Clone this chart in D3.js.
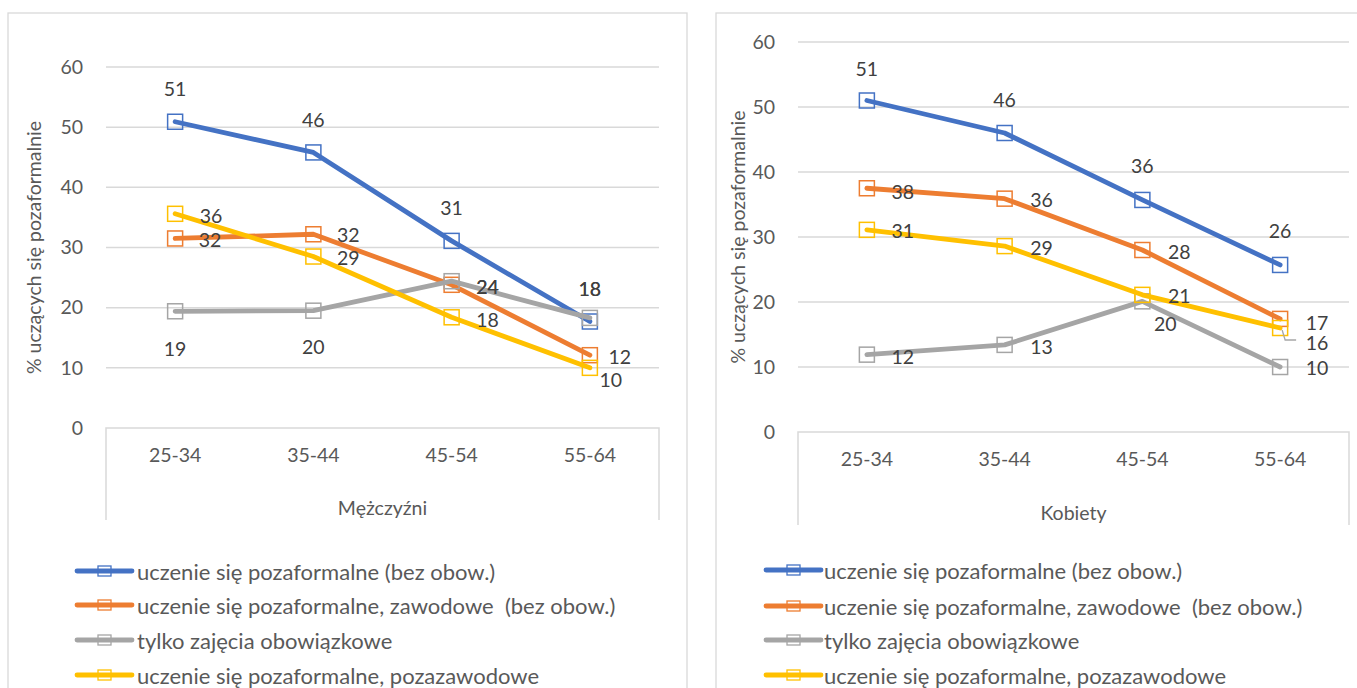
<!DOCTYPE html>
<html>
<head>
<meta charset="utf-8">
<script src="https://cdn.jsdelivr.net/npm/d3@7"></script>
<style>
  html, body { margin: 0; padding: 0; background: #fff; }
  svg { display: block; }
  text { font-family: Lato, "Open Sans", sans-serif; white-space: pre; }
</style>
</head>
<body>
<svg id="chart" width="1357" height="688"></svg>
<script>
// Age groups on the category axis
const categories = ["25-34", "35-44", "45-54", "55-64"];
const yTicks = [0, 10, 20, 30, 40, 50, 60];

const seriesNames = [
  "uczenie się pozaformalne (bez obow.)",
  "uczenie się pozaformalne, zawodowe  (bez obow.)",
  "tylko zajęcia obowiązkowe",
  "uczenie się pozaformalne, pozazawodowe"
];
const seriesColors = ["#4472C4", "#ED7D31", "#A5A5A5", "#FFC000"];

// Mężczyźni (% learning non-formally)
const menBlue   = [50.9, 45.8, 31.1, 17.7];
const menOrange = [31.5, 32.2, 23.8, 12.1];
const menGray   = [19.4, 19.5, 24.4, 18.3];
const menYellow = [35.6, 28.5, 18.4, 10.0];

// Kobiety (% learning non-formally)
const womenBlue   = [51.0, 46.0, 35.7, 25.7];
const womenOrange = [37.5, 35.9, 28.0, 17.4];
const womenGray   = [11.9, 13.4, 20.1, 10.0];
const womenYellow = [31.1, 28.6, 21.1, 16.0];

// Data label offsets from each point: [dx, dy]
const menLabelOffsets = [
  [[0, -33], [0, -33], [0, -33], [0, -33]],
  [[35, 1], [35, 0], [36, 2], [30, 1]],
  [[0, 37], [0, 36], [36, 5.6], [0, -29.4]],
  [[36, 2], [35, 1], [36, 2], [21, 12]]
];
const womenLabelOffsets = [
  [[0, -32], [0, -34], [0, -34], [0, -34]],
  [[36, 3], [37, 1], [37, 1], [37, 4]],
  [[36, 2], [37, 2], [23, 22], [37, 0]],
  [[36, 1], [37, 1], [37, 1], [37, 14.5]]
];

const FONT_TICK = 19.5;
const FONT_LABEL = 19.5;
const FONT_TITLE = 19.5;
const FONT_LEGEND = 22;
const TEXT_GRAY = "#595959";
const LABEL_GRAY = "#404040";
const GRID = "#d9d9d9";

const svg = d3.select("#chart");

function drawPanel(cfg) {
  const g = svg.append("g");

  // chart area frame
  g.append("rect")
    .attr("x", cfg.frame[0]).attr("y", cfg.frame[1])
    .attr("width", cfg.frame[2]).attr("height", cfg.frame[3])
    .attr("fill", "#fff").attr("stroke", GRID).attr("stroke-width", 1.3);

  const x = d3.scaleBand().domain(categories).range([cfg.x0, cfg.x1]).padding(0);
  const y = d3.scaleLinear().domain([0, 60]).range([cfg.yBottom, cfg.yTop]);
  const cx = c => x(c) + x.bandwidth() / 2;

  // horizontal gridlines
  g.append("g").selectAll("line").data(yTicks.filter(t => t > 0)).join("line")
    .attr("x1", cfg.x0).attr("x2", cfg.x1)
    .attr("y1", d => y(d)).attr("y2", d => y(d))
    .attr("stroke", GRID).attr("stroke-width", 1.5);

  // y axis labels
  const yAxis = d3.axisLeft(y).tickValues(yTicks).tickSize(0).tickPadding(23);
  const ya = g.append("g").attr("transform", `translate(${cfg.x0},0)`).call(yAxis);
  ya.select(".domain").remove();
  ya.selectAll("text")
    .attr("font-size", FONT_TICK).attr("fill", TEXT_GRAY)
    .attr("font-family", "Lato, 'Open Sans', sans-serif");

  // category axis: baseline plus outer bracket down to the group title
  const xAxis = d3.axisBottom(x).tickSize(0).tickPadding(20);
  const xa = g.append("g").attr("transform", `translate(0,${cfg.yBottom})`).call(xAxis);
  xa.select(".domain").remove();
  xa.selectAll("text")
    .attr("font-size", FONT_TICK).attr("fill", TEXT_GRAY)
    .attr("font-family", "Lato, 'Open Sans', sans-serif");
  g.append("path")
    .attr("d", `M${cfg.x0},${cfg.bracketBottom}V${cfg.yBottom}H${cfg.x1}V${cfg.bracketBottom}`)
    .attr("fill", "none").attr("stroke", GRID).attr("stroke-width", 1.5);

  g.append("text")
    .attr("x", (cfg.x0 + cfg.x1) / 2).attr("y", cfg.groupY)
    .attr("text-anchor", "middle").attr("dominant-baseline", "central")
    .attr("font-size", FONT_TICK).attr("fill", TEXT_GRAY)
    .text(cfg.group);

  // y axis title
  g.append("text")
    .attr("transform", `translate(${cfg.titleX},${(cfg.yTop + cfg.yBottom) / 2}) rotate(-90)`)
    .attr("text-anchor", "middle").attr("dominant-baseline", "central")
    .attr("font-size", FONT_TITLE).attr("fill", TEXT_GRAY)
    .text("% uczących się pozaformalnie");

  const line = d3.line().x((d, i) => cx(categories[i])).y(d => y(d));
  const M = 15;

  cfg.series.forEach((vals, s) => {
    const sg = g.append("g");
    sg.append("path").datum(vals)
      .attr("d", line)
      .attr("fill", "none").attr("stroke", seriesColors[s])
      .attr("stroke-width", 4.8).attr("stroke-linejoin", "round").attr("stroke-linecap", "round");
    sg.selectAll("rect").data(vals).join("rect")
      .attr("x", (d, i) => cx(categories[i]) - M / 2)
      .attr("y", d => y(d) - M / 2)
      .attr("width", M).attr("height", M)
      .attr("fill", "none").attr("stroke", seriesColors[s]).attr("stroke-width", 1.5);
  });

  // leader line to a moved label
  if (cfg.leader) {
    const [s, i] = cfg.leader;
    const px = cx(categories[i]), py = y(cfg.series[s][i]);
    g.append("path")
      .attr("d", `M${px + 2},${py + 2}L${px + 5},${py + 12}H${px + 16}`)
      .attr("fill", "none").attr("stroke", "#a6a6a6").attr("stroke-width", 1.3);
  }

  // data labels
  cfg.series.forEach((vals, s) => {
    g.append("g").selectAll("text").data(vals).join("text")
      .attr("x", (d, i) => cx(categories[i]) + cfg.offsets[s][i][0])
      .attr("y", (d, i) => y(d) + cfg.offsets[s][i][1])
      .attr("text-anchor", "middle").attr("dominant-baseline", "central")
      .attr("font-size", FONT_LABEL).attr("fill", LABEL_GRAY)
      .text(d => Math.round(d));
  });

  // legend
  const lg = g.append("g");
  seriesNames.forEach((name, s) => {
    const ly = cfg.legendY[s];
    lg.append("line")
      .attr("x1", cfg.legendX).attr("x2", cfg.legendX + 55)
      .attr("y1", ly).attr("y2", ly)
      .attr("stroke", seriesColors[s]).attr("stroke-width", 4.8).attr("stroke-linecap", "round");
    lg.append("rect")
      .attr("x", cfg.legendX + 27.5 - 6.5).attr("y", ly - 5)
      .attr("width", 13).attr("height", 10)
      .attr("fill", "none").attr("stroke", seriesColors[s]).attr("stroke-width", 1.3);
    lg.append("text")
      .attr("x", cfg.legendTextX).attr("y", ly)
      .attr("dominant-baseline", "central")
      .attr("font-size", FONT_LEGEND).attr("fill", TEXT_GRAY)
      .text(name);
  });
}

drawPanel({
  frame: [8, 13, 679, 700],
  x0: 106, x1: 659, yTop: 67, yBottom: 428,
  bracketBottom: 520, groupY: 507, titleX: 33,
  group: "Mężczyźni",
  series: [menBlue, menOrange, menGray, menYellow],
  offsets: menLabelOffsets,
  legendX: 77, legendTextX: 137, legendY: [571, 605, 640, 675]
});

drawPanel({
  frame: [716, 13, 700, 700],
  x0: 798, x1: 1349, yTop: 42, yBottom: 432,
  bracketBottom: 525, groupY: 512, titleX: 737,
  group: "Kobiety",
  series: [womenBlue, womenOrange, womenGray, womenYellow],
  offsets: womenLabelOffsets,
  leader: [3, 3],
  legendX: 766, legendTextX: 824, legendY: [570, 606, 640, 675]
});
</script>
</body>
</html>
